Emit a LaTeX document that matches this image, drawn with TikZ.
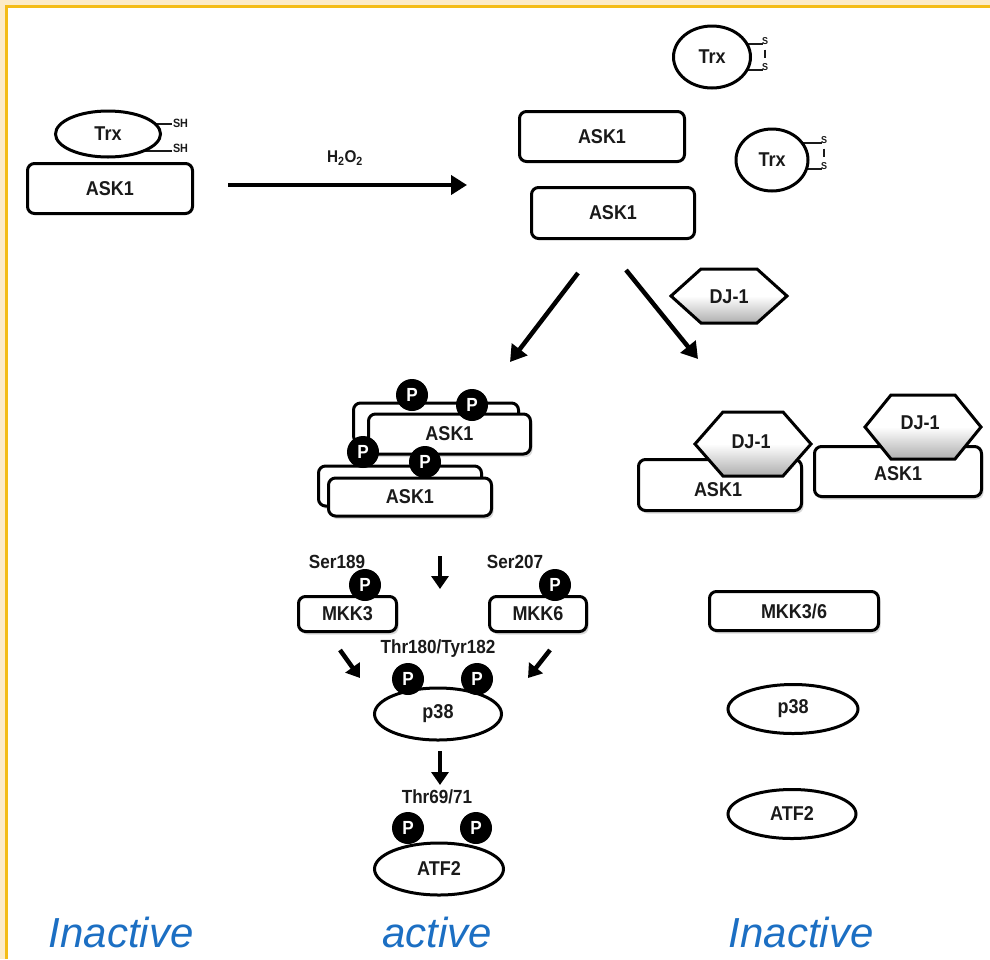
\documentclass[tikz,border=0pt]{standalone}
\usepackage{fontspec}
\setmainfont{Liberation Sans}
\newfontfamily\lab[FakeStretch=0.9]{Liberation Sans}
\usetikzlibrary{arrows.meta,shapes.geometric,shadows}
\definecolor{gold}{HTML}{F4BC18}
\definecolor{cream}{HTML}{FCEBC8}
\definecolor{stateblue}{HTML}{1C6FC3}
\definecolor{ink}{HTML}{1A1A1A}
\newcommand\hexpath[5]{(#1-#3,#2) -- (#1-#5,#2-#4) -- (#1+#5,#2-#4) -- (#1+#3,#2) -- (#1+#5,#2+#4) -- (#1-#5,#2+#4) -- cycle}
\begin{document}
\begin{tikzpicture}[x=1pt,y=-1pt,
  every node/.style={inner sep=0pt, outer sep=0pt},
  protbox/.style={draw, line width=3pt, rounded corners=7pt, fill=white, text=ink,
    font=\lab\bfseries\fontsize{20}{22}\selectfont},
  shbox/.style={protbox, drop shadow={shadow xshift=2pt,shadow yshift=-3pt,opacity=0.3}},
  prot/.style={ellipse, draw, line width=3pt, fill=white, text=ink,
    font=\lab\bfseries\fontsize{20}{22}\selectfont},
  phos/.style={circle, fill=black, minimum size=32pt, text=white,
    font=\lab\bfseries\fontsize{19}{19}\selectfont},
  site/.style={font=\lab\bfseries\fontsize{19}{20}\selectfont, text=ink},
  tiny/.style={font=\lab\bfseries\fontsize{12}{12}\selectfont, text=ink},
  bond/.style={line width=1.3pt, draw=ink},
  bigarrow/.style={line width=4.5pt, -{Triangle[length=16pt,width=19pt]}},
  fatarrow/.style={line width=4.5pt, -{Triangle[length=13pt,width=17pt]}},
  hexa/.style={draw, line width=3pt, line join=miter, top color=white, bottom color=black!32, middle color=white},
  state/.style={font=\itshape\fontsize{42}{44}\selectfont, text=stateblue}
]
\useasboundingbox (0,0) rectangle (990,959);
% frame
\fill[cream] (0,0) rectangle (990,4.5);
\fill[cream] (0,0) rectangle (4.5,959);
\fill[gold] (4.5,4.5) rectangle (990,7.5);
\fill[gold] (4.5,4.5) rectangle (7.5,959);

% ---------- top left: Trx bound to ASK1
\node[protbox, minimum width=165pt, minimum height=50pt] (ask0) at (110,188.5) {ASK1};
\coordinate (trxc) at (108,134);
\coordinate (sha) at (172,124);
\coordinate (shb) at (172,151);
\draw[bond] (trxc |- sha) -- (sha);
\draw[bond] (trxc |- shb) -- (shb);
\node[prot, minimum width=105pt, minimum height=46pt] (trx0) at (trxc) {Trx};
\node[tiny, anchor=west] (sh1) at (173,123) {SH};
\node[tiny, anchor=west] (sh2) at (173,148) {SH};

% ---------- H2O2 arrow
\coordinate (h1) at (228,185);
\coordinate (h2) at (467,185);
\draw[bigarrow] (h1) -- (h2);
\node[site, font=\lab\bfseries\fontsize{17}{17}\selectfont] (hoo) at (345,158) {H\textsubscript{2}O\textsubscript{2}};

% ---------- top right: free ASK1 and oxidised Trx
\node[protbox, minimum width=165pt, minimum height=50pt] (ask1) at (602,136.5) {ASK1};
\node[protbox, minimum width=163pt, minimum height=51pt] (ask2) at (613,213) {ASK1};

\coordinate (t1c) at (712,57);
\coordinate (s1a) at (763,44);
\coordinate (s1b) at (763,70);
\draw[bond] (t1c |- s1a) -- (s1a);
\draw[bond] (t1c |- s1b) -- (s1b);
\node[prot, minimum width=77pt, minimum height=62pt] (trx1) at (t1c) {Trx};
\node[tiny, anchor=west, font=\lab\bfseries\fontsize{10}{10}\selectfont] (s1t) at (762,41) {S};
\node[tiny, anchor=west, font=\lab\bfseries\fontsize{10}{10}\selectfont] (s1u) at (762,67) {S};
\draw[bond] (s1t.south) ++(0,5) coordinate (s1m1) -- ++(0,8);

\coordinate (t2c) at (772,160);
\coordinate (s2a) at (822,143);
\coordinate (s2b) at (822,169);
\draw[bond] (t2c |- s2a) -- (s2a);
\draw[bond] (t2c |- s2b) -- (s2b);
\node[prot, minimum width=72pt, minimum height=62pt] (trx2) at (t2c) {Trx};
\node[tiny, anchor=west, font=\lab\bfseries\fontsize{10}{10}\selectfont] (s2t) at (821,140) {S};
\node[tiny, anchor=west, font=\lab\bfseries\fontsize{10}{10}\selectfont] (s2u) at (821,166) {S};
\draw[bond] (s2t.south) ++(0,5) coordinate (s2m1) -- ++(0,8);

% ---------- split arrows
\coordinate (sa1) at (578,273);
\coordinate (sa2) at (510,362);
\coordinate (sb1) at (626,270);
\coordinate (sb2) at (698,359);
\draw[bigarrow] (sa1) -- (sa2);
\draw[bigarrow] (sb1) -- (sb2);

% free DJ-1
\path[hexa] \hexpath{729}{296}{58}{27}{28};
\node[site, font=\lab\bfseries\fontsize{20}{22}\selectfont] (dj0) at (729,297) {DJ-1};

% ---------- active ASK1 oligomer
\node[shbox, minimum width=165pt, minimum height=40pt] (aska) at (436,423) {};
\node[shbox, minimum width=162pt, minimum height=40pt] (askb) at (449.5,434) {ASK1};
\node[shbox, minimum width=163pt, minimum height=40pt] (askc) at (400,486) {};
\node[shbox, minimum width=163pt, minimum height=38pt] (askd) at (410,497) {ASK1};
\node[phos] (pa1) at (412,395) {P};
\node[phos] (pa2) at (472,405) {P};
\node[phos] (pa3) at (363,452) {P};
\node[phos] (pa4) at (425,462) {P};

% ---------- DJ-1 bound ASK1 (inactive)
\node[shbox, minimum width=163pt, minimum height=51pt] (askl) at (720,485) {};
\path[hexa] \hexpath{753}{444}{58}{32}{30};
\node[site, font=\lab\bfseries\fontsize{20}{22}\selectfont] (dj1) at (751,442) {DJ-1};
\node[site, font=\lab\bfseries\fontsize{20}{22}\selectfont] (askltxt) at (718,490) {ASK1};

\node[shbox, minimum width=167pt, minimum height=50pt] (askr) at (898,471.5) {};
\path[hexa] \hexpath{923}{427}{58}{32}{32};
\node[site, font=\lab\bfseries\fontsize{20}{22}\selectfont] (dj2) at (920,423) {DJ-1};
\node[site, font=\lab\bfseries\fontsize{20}{22}\selectfont] (askrtxt) at (898,474) {ASK1};

% ---------- active cascade
\coordinate (d1a) at (440,556);
\coordinate (d1b) at (440,589);
\draw[fatarrow] (d1a) -- (d1b);

\node[site] (ser189) at (337,562) {Ser189};
\node[shbox, minimum width=98pt, minimum height=35pt] (mkk3) at (347.5,614) {MKK3};
\node[phos] (pm3) at (365,585) {P};

\node[site] (ser207) at (515,562) {Ser207};
\node[shbox, minimum width=97pt, minimum height=35pt] (mkk6) at (538,614) {MKK6};
\node[phos] (pm6) at (555,585) {P};

\node[site] (thr180) at (438,649) {Thr180/Tyr182};
\coordinate (la1) at (340,650);
\coordinate (la2) at (360,678);
\coordinate (ra1) at (550,650);
\coordinate (ra2) at (528,678);
\draw[fatarrow] (la1) -- (la2);
\draw[fatarrow] (ra1) -- (ra2);

\node[prot, minimum width=127pt, minimum height=52pt] (p38a) at (438,714) {p38};
\node[phos] (pp1) at (408,679) {P};
\node[phos] (pp2) at (477,679) {P};

\coordinate (d2a) at (440,751);
\coordinate (d2b) at (440,785);
\draw[fatarrow] (d2a) -- (d2b);

\node[site] (thr69) at (437,797) {Thr69/71};
\node[prot, minimum width=129pt, minimum height=52pt] (atf2a) at (439,869) {ATF2};
\node[phos] (pt1) at (408,828) {P};
\node[phos] (pt2) at (476,828) {P};

% ---------- inactive cascade
\node[shbox, minimum width=169pt, minimum height=39pt] (mkk36) at (794,611) {MKK3/6};
\node[prot, minimum width=130pt, minimum height=49pt] (p38b) at (793,709) {p38};
\node[prot, minimum width=128pt, minimum height=49pt] (atf2b) at (792,814) {ATF2};

% ---------- state labels
\node[state] (st1) at (121,932) {Inactive};
\node[state] (st2) at (437,932) {active};
\node[state] (st3) at (801,932) {Inactive};
\end{tikzpicture}
\end{document}
